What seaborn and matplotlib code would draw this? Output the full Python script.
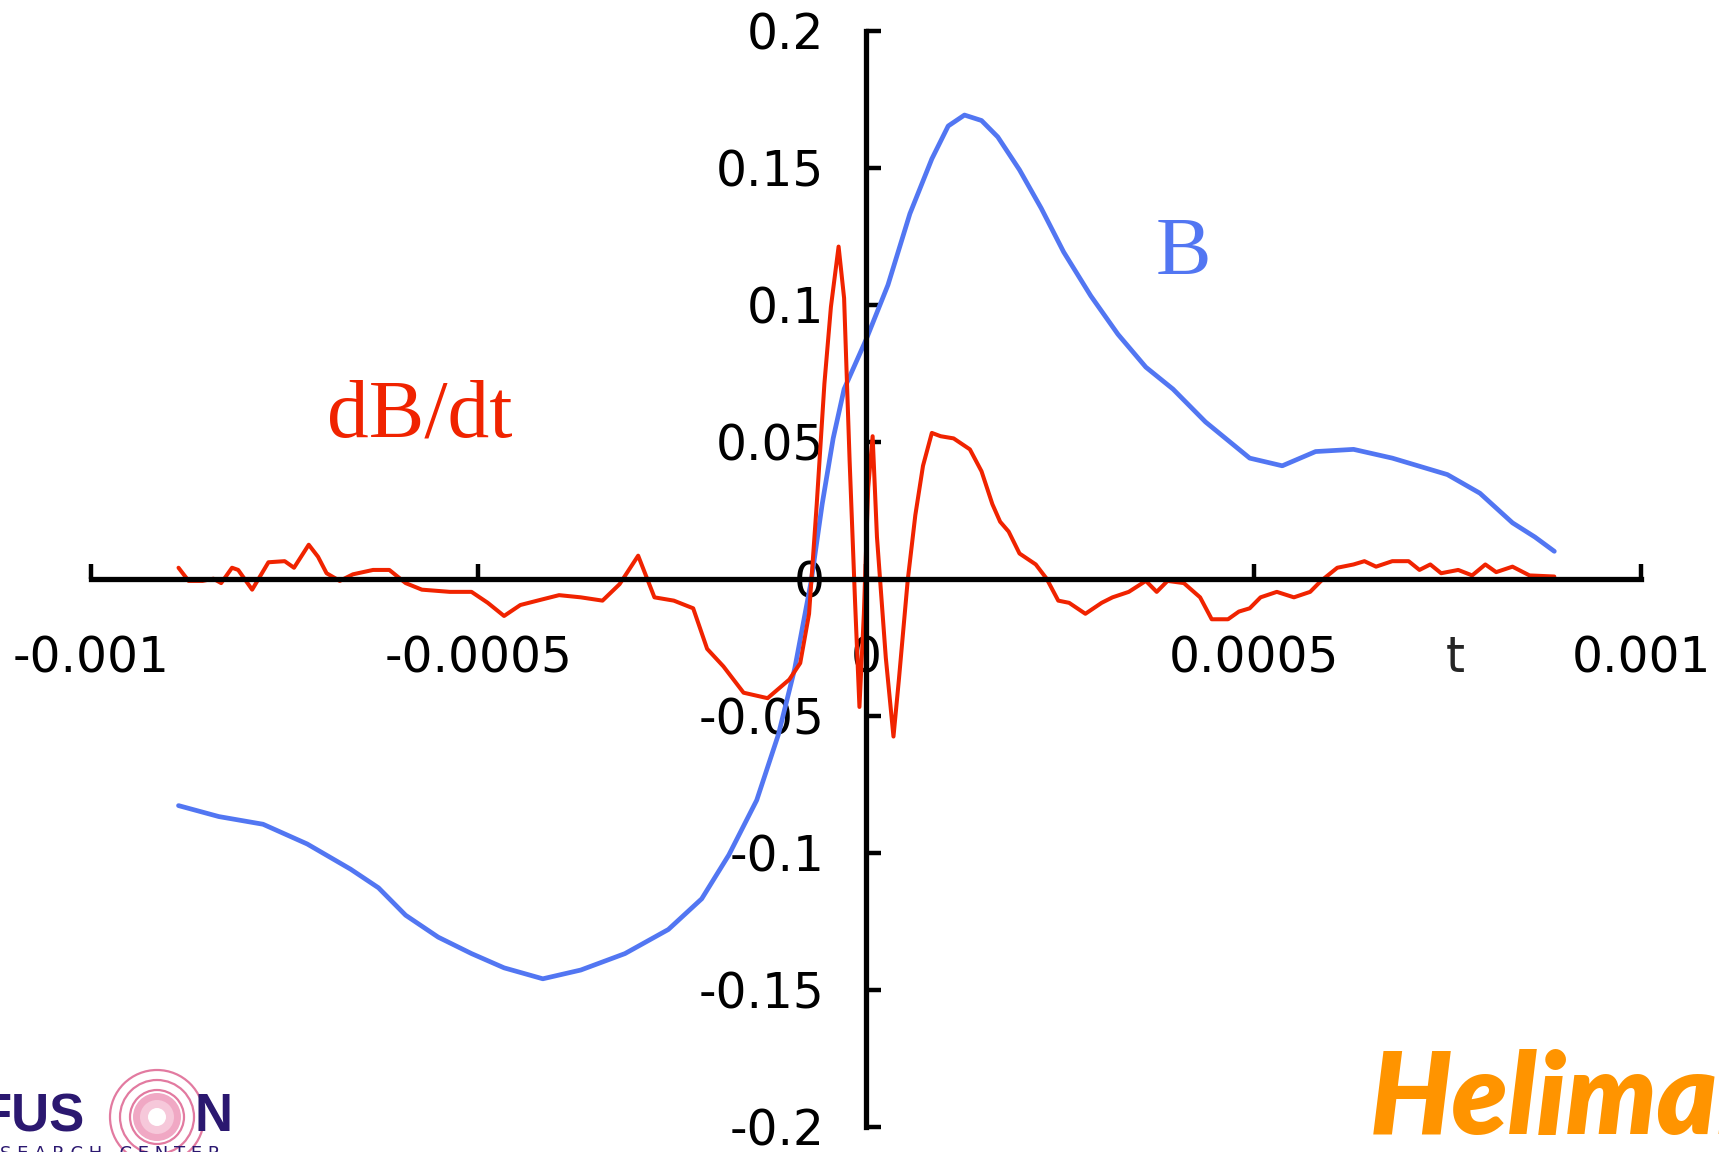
import numpy as np
import pandas as pd
import matplotlib.pyplot as plt
import seaborn as sns
from matplotlib.patches import Circle

# B curve (blue)
b_t = [-0.000887, -0.000835, -0.000778, -0.000721, -0.000665, -0.000629, -0.000594,
       -0.000552, -0.000509, -0.000467, -0.000417, -0.000368, -0.000311, -0.000255,
       -0.000212, -0.000177, -0.000141, -0.000113, -0.000092, -0.0000707, -0.0000566,
       -0.0000424, -0.0000283, 0.0, 0.0000283, 0.0000566, 0.0000849, 0.000106,
       0.000127, 0.000149, 0.00017, 0.000198, 0.000226, 0.000255, 0.00029, 0.000325,
       0.000361, 0.000396, 0.000438, 0.000495, 0.000537, 0.00058, 0.000629, 0.000679,
       0.00075, 0.000792, 0.000834, 0.000863, 0.000888]
b_val = [-0.0828, -0.0868, -0.0896, -0.0968, -0.106, -0.1128, -0.1228,
         -0.1308, -0.1368, -0.142, -0.146, -0.1428, -0.1368, -0.128,
         -0.1168, -0.1008, -0.0808, -0.0568, -0.0328, -0.0008, 0.0272,
         0.0512, 0.0692, 0.0872, 0.1072, 0.1332, 0.1532, 0.1652,
         0.1692, 0.1672, 0.1612, 0.1492, 0.1352, 0.1192, 0.1032, 0.0892,
         0.0772, 0.0692, 0.0572, 0.044, 0.0412, 0.0464, 0.0472, 0.044,
         0.038, 0.0312, 0.0204, 0.0152, 0.01]

# dB/dt curve (red)
d_t = [-0.000887, -0.000874, -0.000856, -0.000842, -0.000832, -0.000818, -0.00081,
       -0.000792, -0.000771, -0.00075, -0.000738, -0.000719, -0.000707, -0.000696,
       -0.000679, -0.000662, -0.000636, -0.000615, -0.000594, -0.000573, -0.000537,
       -0.000509, -0.000488, -0.000467, -0.000446, -0.000424, -0.000396, -0.000368,
       -0.00034, -0.000318, -0.000294, -0.000273, -0.000248, -0.000223, -0.000205,
       -0.000184, -0.000158, -0.000127, -0.000099, -0.0000849, -0.0000735, -0.0000636,
       -0.0000537, -0.0000453, -0.0000354, -0.0000283, -0.0000212, -0.0000141,
       -0.0000085, -0.0000028, 0.0000028, 0.0000085, 0.0000141, 0.0000255, 0.0000354,
       0.0000424, 0.0000537, 0.0000636, 0.0000735, 0.0000849, 0.0000962, 0.000113,
       0.000134, 0.000149, 0.000163, 0.000173, 0.000184, 0.000198, 0.000219, 0.000233,
       0.000248, 0.000262, 0.000283, 0.000304, 0.000318, 0.000339, 0.000361, 0.000375,
       0.000389, 0.00041, 0.000431, 0.000446, 0.000467, 0.000481, 0.000495, 0.000509,
       0.00053, 0.000552, 0.000573, 0.000587, 0.000608, 0.000629, 0.000643, 0.000658,
       0.000679, 0.0007, 0.000714, 0.000728, 0.000742, 0.000764, 0.000782, 0.000799,
       0.000813, 0.000834, 0.000856, 0.000888]
d_val = [0.004, -0.0008, -0.0008, 0.0, -0.0016, 0.004, 0.0032,
         -0.004, 0.006, 0.0064, 0.004, 0.0124, 0.008, 0.002,
         -0.0008, 0.0016, 0.0032, 0.0032, -0.0016, -0.004, -0.0048,
         -0.0048, -0.0088, -0.0136, -0.0096, -0.008, -0.006, -0.0068,
         -0.008, -0.002, 0.0084, -0.0068, -0.008, -0.0108, -0.0256,
         -0.032, -0.0416, -0.0436, -0.0368, -0.0308, -0.0128, 0.0272,
         0.0712, 0.0992, 0.1212, 0.1024, 0.0432, -0.0088,
         -0.0468, -0.0128, 0.0332, 0.052, 0.0152, -0.0288, -0.0576,
         -0.0368, -0.0008, 0.0232, 0.0412, 0.0532, 0.052, 0.0512,
         0.0472, 0.0392, 0.0272, 0.0208, 0.0172, 0.0092, 0.0052, 0.0,
         -0.008, -0.0088, -0.0128, -0.0088, -0.0068, -0.0048, -0.0008, -0.0048,
         -0.0008, -0.0016, -0.0068, -0.0148, -0.0148, -0.012, -0.0108, -0.0068,
         -0.0048, -0.0068, -0.0048, -0.0008, 0.004, 0.0052, 0.0064, 0.0044,
         0.0064, 0.0064, 0.0032, 0.0052, 0.002, 0.0032, 0.0012, 0.0052,
         0.0024, 0.0044, 0.0012, 0.0008]

x_ticks = [-0.001, -0.0005, 0, 0.0005, 0.001]
x_labels = ['-0.001', '-0.0005', '0', '0.0005', '0.001']
y_ticks = [0.2, 0.15, 0.1, 0.05, 0, -0.05, -0.1, -0.15, -0.2]
y_labels = ['0.2', '0.15', '0.1', '0.05', '0', '-0.05', '-0.1', '-0.15', '-0.2']

BLUE = '#5276f2'
RED = '#f02300'

sns.set_style('white')
plt.rcParams['font.family'] = ['DejaVu Sans']

fig = plt.figure(figsize=(17.19, 11.52), dpi=100)
ax = fig.add_axes([0.0529, 0.0219, 0.9018, 0.9515])

df_b = pd.DataFrame({'t': b_t, 'v': b_val})
df_d = pd.DataFrame({'t': d_t, 'v': d_val})
sns.lineplot(data=df_b, x='t', y='v', ax=ax, color=BLUE, linewidth=3.4, sort=False)
sns.lineplot(data=df_d, x='t', y='v', ax=ax, color=RED, linewidth=2.9, sort=False)

ax.set_xlim(-0.001, 0.001)
ax.set_ylim(-0.2, 0.2)
ax.set_xlabel('')
ax.set_ylabel('')

for s in ['top', 'right']:
    ax.spines[s].set_visible(False)
for s in ['left', 'bottom']:
    ax.spines[s].set_position(('data', 0))
    ax.spines[s].set_linewidth(3.8)
    ax.spines[s].set_color('black')

ax.set_xticks(x_ticks, x_labels)
ax.set_yticks(y_ticks, y_labels)
ax.tick_params(axis='x', bottom=True, direction='in', length=11, width=3.2, pad=40,
               labelsize=35, colors='black')
ax.tick_params(axis='y', left=True, direction='in', length=11, width=3.2, pad=30,
               labelsize=35, colors='black')

ax.text(0.00076, -0.029, 't', fontsize=35, ha='center', va='center')
ax.text(0.00041, 0.1184, 'B', fontsize=60, color=BLUE, ha='center', va='center',
        family='Liberation Serif')
ax.text(-0.000576, 0.0592, 'dB/dt', fontsize=60, color=RED, ha='center', va='center',
        family='Liberation Serif')

# logo bottom left
fig.text(-0.012, 0.018, 'FUS', fontsize=38, fontweight='heavy', color='#2b1870',
         ha='left', va='baseline', family='Liberation Sans')
fig.text(0.113, 0.018, 'N', fontsize=38, fontweight='heavy', color='#2b1870',
         ha='left', va='baseline', family='Liberation Sans')
fig.text(0.0, -0.006, 'S E A R C H   C E N T E R', fontsize=13, color='#2b1870',
         ha='left', va='baseline')
cx, cy = 157, 1152 - 1117
for r in [47, 37, 27]:
    fig.patches.append(Circle((cx, cy), r, transform=None,
                              fill=False, ec='#e27aa0', lw=1.6))
for r, c in [(24, '#f0a8c4'), (17, '#f6c8da'), (9, '#ffffff')]:
    fig.patches.append(Circle((cx, cy), r, transform=None, fc=c, ec='none'))

fig.text(0.797, 0.016, 'Heliman', fontsize=82, fontweight='heavy', style='italic',
         color='#ff9400', family='Lato', ha='left', va='baseline')

plt.savefig('out.png', dpi=100)
